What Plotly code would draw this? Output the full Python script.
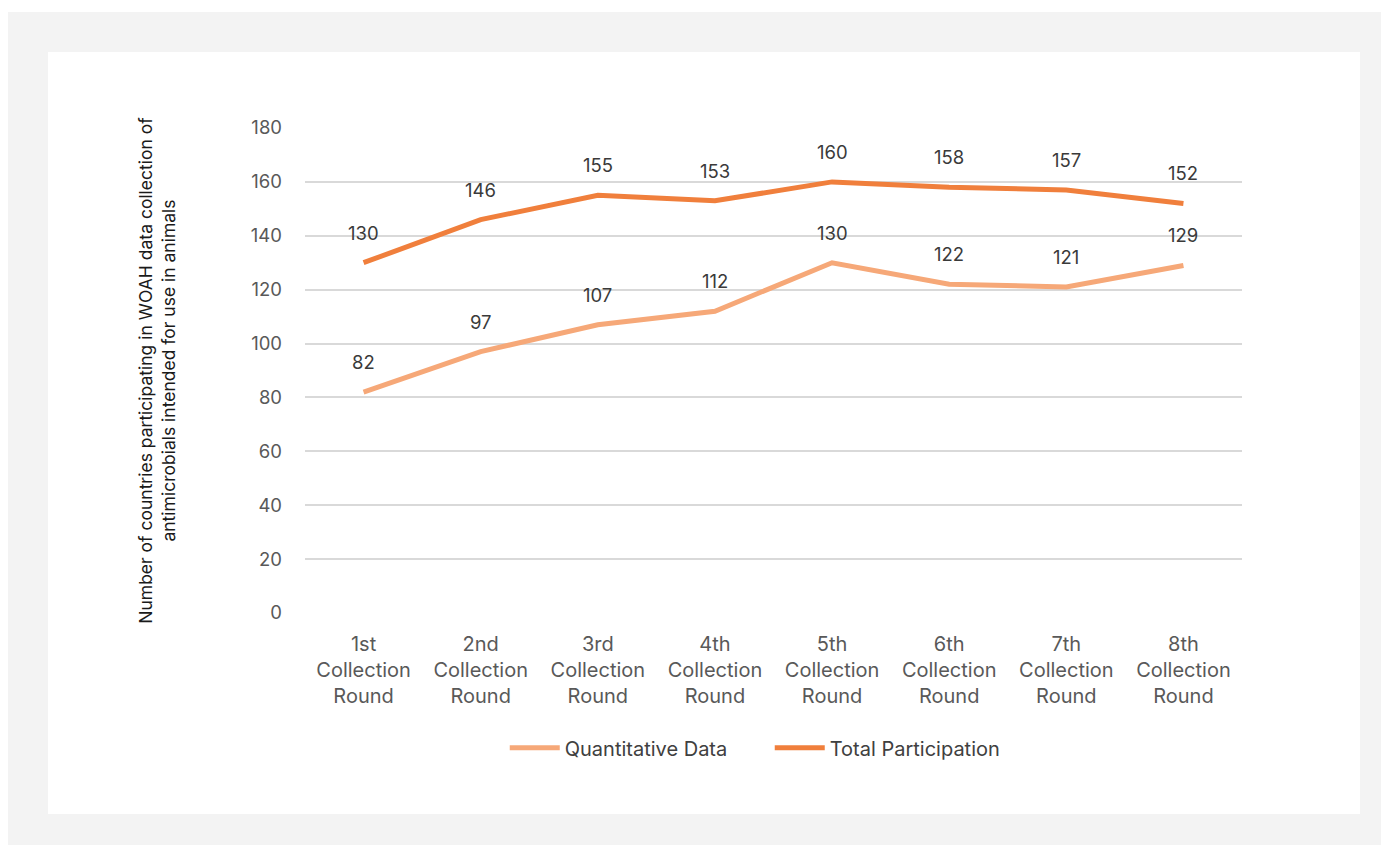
import plotly.graph_objects as go

categories = ["1st<br>Collection<br>Round", "2nd<br>Collection<br>Round", "3rd<br>Collection<br>Round",
              "4th<br>Collection<br>Round", "5th<br>Collection<br>Round", "6th<br>Collection<br>Round",
              "7th<br>Collection<br>Round", "8th<br>Collection<br>Round"]
quantitative = [82, 97, 107, 112, 130, 122, 121, 129]
total = [130, 146, 155, 153, 160, 158, 157, 152]
y_ticks = [0, 20, 40, 60, 80, 100, 120, 140, 160, 180]

# page has an 8px body margin, so the figure is drawn in figure coordinates (page - 8)
W, H = 1381, 837
L, R, T, B = 297, 1234, 120, 605
FONT = "Inter, Liberation Sans, Arial, sans-serif"

fig = go.Figure()
fig.add_trace(go.Scatter(x=categories, y=quantitative, mode="lines", name="Quantitative Data",
                         line=dict(color="#F6A878", width=5)))
fig.add_trace(go.Scatter(x=categories, y=total, mode="lines", name="Total Participation",
                         line=dict(color="#F07F3C", width=5)))

for series in (quantitative, total):
    for c, v in zip(categories, series):
        fig.add_annotation(x=c, y=v, text=str(v), showarrow=False, yshift=30,
                           font=dict(size=18.5, color="#3a3a3a", family=FONT))

def px_to_paper_x(px):
    return (px - L) / (R - L)

def px_to_paper_y(py):
    return (B - py) / (B - T)

# outer gray frame and inner white card (figure pixel coordinates)
fig.add_shape(type="rect", xref="paper", yref="paper", layer="below", line_width=0,
              fillcolor="#F3F3F3",
              x0=px_to_paper_x(0), x1=px_to_paper_x(1390), y0=px_to_paper_y(845), y1=px_to_paper_y(4))
fig.add_shape(type="rect", xref="paper", yref="paper", layer="below", line_width=0,
              fillcolor="#FFFFFF",
              x0=px_to_paper_x(40), x1=px_to_paper_x(1352), y0=px_to_paper_y(806), y1=px_to_paper_y(44))

fig.update_layout(
    width=W, height=H,
    margin=dict(l=L, r=W - R, t=T, b=H - B, autoexpand=False),
    paper_bgcolor="#FFFFFF", plot_bgcolor="rgba(0,0,0,0)",
    font=dict(family=FONT, color="#595959", size=18),
    showlegend=True,
    legend=dict(orientation="h", x=0.496, xanchor="center", y=-0.278, yanchor="middle",
                font=dict(size=20, color="#404040"), bgcolor="rgba(0,0,0,0)",
                itemwidth=50, entrywidth=200, tracegroupgap=0),
    xaxis=dict(type="category", range=[-0.5, 7.5], showgrid=False, zeroline=False, showline=False,
               ticks="", tickfont=dict(size=20, color="#595959"), ticklabelstandoff=17,
               automargin=False),
    yaxis=dict(range=[0, 180], tickvals=y_ticks, showgrid=True, gridcolor="#D9D9D9", gridwidth=1.5,
               zeroline=False, showline=False, ticks="", tickfont=dict(size=18.5, color="#595959"),
               ticklabelstandoff=22, automargin=False,
               title=dict(text="Number of countries participating in WOAH data collection of<br>antimicrobials intended for use in animals",
                          font=dict(size=17.5, color="#1a1a1a"), standoff=70)),
)

fig.write_html("out.html")
